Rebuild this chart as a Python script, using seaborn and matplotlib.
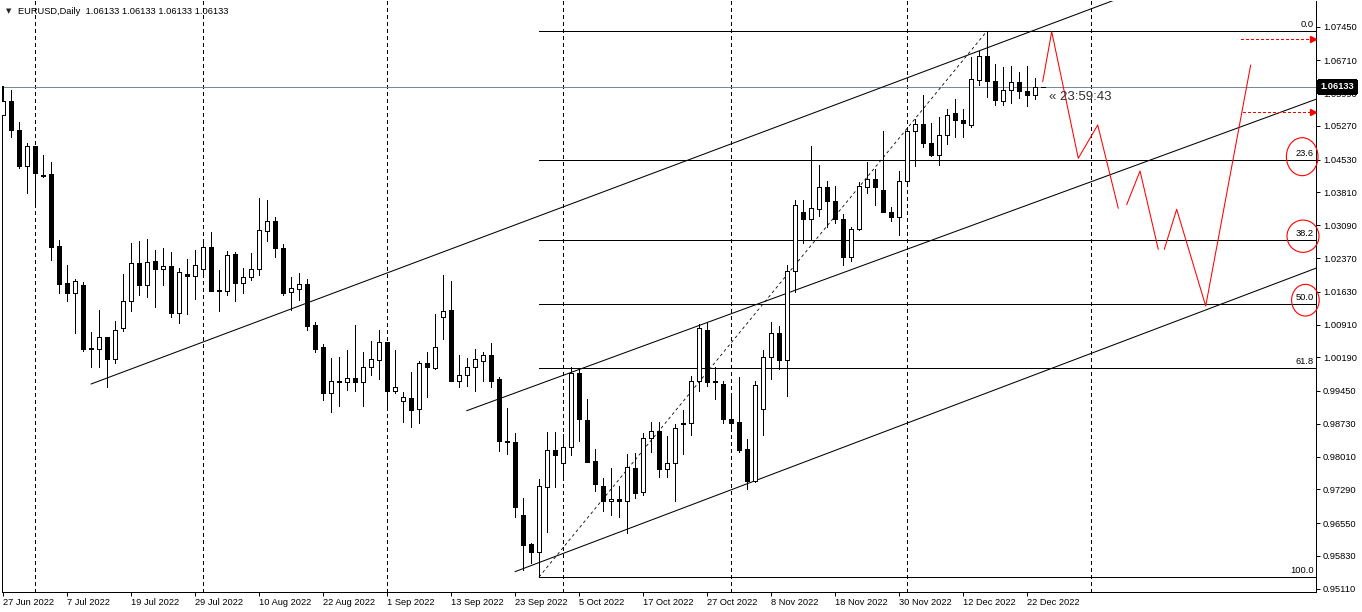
import numpy as np
import pandas as pd
import matplotlib
matplotlib.use("Agg")
import matplotlib.pyplot as plt
import matplotlib.transforms as mtrans
from matplotlib.patches import Ellipse
import seaborn as sns

sns.set_theme(style="white")
plt.rcParams["font.family"] = ["Liberation Sans", "DejaVu Sans"]
plt.rcParams["lines.antialiased"] = False
plt.rcParams["patch.antialiased"] = False

# ---------------- data (EURUSD daily) ----------------
opens = [1.0551, 1.0582, 1.0518, 1.0440, 1.0483, 1.0420, 1.0421, 1.0263, 1.0182, 1.0160,
         1.0178, 1.0039, 1.0037, 1.0063, 1.0015, 1.0084, 1.0142, 1.0226, 1.0177, 1.0230,
         1.0212, 1.0219, 1.0116, 1.0203, 1.0197, 1.0212, 1.0261, 1.0167, 1.0164, 1.0246,
         1.0182, 1.0195, 1.0212, 1.0297, 1.0318, 1.0258, 1.0162, 1.0170, 1.0180, 1.0090,
         1.0042, 0.9941, 0.9966, 0.9964, 0.9973, 0.9965, 0.9997, 1.0013, 1.0053, 0.9944,
         0.9922, 0.9930, 0.9905, 1.0006, 0.9996, 1.0107, 1.0123, 0.9966, 0.9980, 0.9997,
         1.0010, 1.0023, 0.9971, 0.9836, 0.9834, 0.9672, 0.9609, 0.9592, 0.9735, 0.9815,
         0.9786, 0.9823, 0.9985, 0.9881, 0.9791, 0.9736, 0.9703, 0.9707, 0.9703, 0.9776,
         0.9723, 0.9842, 0.9857, 0.9773, 0.9786, 0.9874, 0.9874, 0.9967, 1.0080, 0.9966,
         0.9960, 0.9884, 0.9877, 0.9817, 0.9748, 0.9905, 1.0019, 1.0072, 1.0012, 1.0208,
         1.0338, 1.0323, 1.0345, 1.0392, 1.0362, 1.0322, 1.0239, 1.0301, 1.0394, 1.0410,
         1.0386, 1.0338, 1.0328, 1.0406, 1.0515, 1.0531, 1.0489, 1.0464, 1.0507, 1.0555,
         1.0539, 1.0530, 1.0628, 1.0681, 1.0625, 1.0581, 1.0606, 1.0624, 1.0604, 1.0594,
         1.06133]
highs = [1.0615, 1.0606, 1.0536, 1.0490, 1.0483, 1.0463, 1.0448, 1.0277, 1.0221, 1.0190,
         1.0184, 1.0075, 1.0123, 1.0063, 1.0099, 1.0202, 1.0269, 1.0274, 1.0278, 1.0255,
         1.0259, 1.0250, 1.0214, 1.0234, 1.0255, 1.0277, 1.0294, 1.0211, 1.0253, 1.0250,
         1.0214, 1.0249, 1.0369, 1.0364, 1.0328, 1.0268, 1.0196, 1.0205, 1.0192, 1.0097,
         1.0048, 1.0017, 1.0020, 1.0035, 1.0089, 1.0031, 1.0055, 1.0079, 1.0053, 1.0035,
         0.9943, 0.9987, 1.0010, 1.0031, 1.0114, 1.0199, 1.0187, 1.0023, 1.0017, 1.0038,
         1.0031, 1.0050, 0.9976, 0.9908, 0.9852, 0.9710, 0.9611, 0.9751, 0.9855, 0.9855,
         0.9851, 0.9997, 0.9994, 0.9927, 0.9817, 0.9754, 0.9775, 0.9736, 0.9807, 0.9808,
         0.9853, 0.9877, 0.9877, 0.9846, 0.9873, 0.9903, 0.9978, 1.0092, 1.0095, 0.9997,
         0.9968, 0.9932, 0.9975, 0.9839, 0.9966, 1.0034, 1.0097, 1.0088, 1.0222, 1.0364,
         1.0364, 1.0482, 1.0441, 1.0407, 1.0395, 1.0334, 1.0306, 1.0404, 1.0448, 1.0433,
         1.0515, 1.0350, 1.0427, 1.0523, 1.0543, 1.0594, 1.0533, 1.0547, 1.0564, 1.0587,
         1.0564, 1.0678, 1.0692, 1.07355, 1.0663, 1.0657, 1.0659, 1.0646, 1.0659, 1.0632,
         1.06133]
lows = [1.0551, 1.0503, 1.0435, 1.0380, 1.0358, 1.0415, 1.0233, 1.0161, 1.0143, 1.0072,
        1.0032, 0.9998, 0.9997, 0.9953, 1.0007, 1.0077, 1.0120, 1.0155, 1.0152, 1.0129,
        1.0178, 1.0107, 1.0095, 1.0113, 1.0146, 1.0202, 1.0164, 1.0121, 1.0155, 1.0142,
        1.0160, 1.0189, 1.0200, 1.0275, 1.0239, 1.0155, 1.0123, 1.0145, 1.0079, 1.0031,
        0.9925, 0.9899, 0.9911, 0.9947, 0.9946, 0.9913, 0.9981, 0.9971, 0.9911, 0.9941,
        0.9877, 0.9865, 0.9875, 0.9931, 0.9993, 1.0060, 0.9966, 0.9954, 0.9956, 0.9944,
        0.9966, 0.9954, 0.9814, 0.9807, 0.9669, 0.9552, 0.9568, 0.95365, 0.9636, 0.9735,
        0.9753, 0.9805, 0.9835, 0.9789, 0.9726, 0.9682, 0.9672, 0.9668, 0.9634, 0.9709,
        0.9717, 0.9811, 0.9756, 0.9756, 0.9704, 0.9807, 0.9849, 0.9944, 0.9956, 0.9927,
        0.9874, 0.9864, 0.9811, 0.9730, 0.9745, 0.9849, 0.9972, 0.9993, 0.9934, 1.0163,
        1.0271, 1.0278, 1.0329, 1.0305, 1.0313, 1.0222, 1.0230, 1.0298, 1.0380, 1.0354,
        1.0338, 1.0318, 1.0288, 1.0397, 1.0438, 1.0480, 1.0460, 1.0442, 1.0487, 1.0503,
        1.0503, 1.0525, 1.0618, 1.0591, 1.0572, 1.0574, 1.0578, 1.0588, 1.0571, 1.0586,
        1.06133]
closes = [1.0582, 1.0518, 1.0439, 1.0483, 1.0424, 1.0418, 1.0262, 1.0181, 1.0160, 1.0186,
          1.0038, 1.0037, 1.0063, 1.0016, 1.0079, 1.0143, 1.0226, 1.0178, 1.0228, 1.0212,
          1.0219, 1.0116, 1.0206, 1.0197, 1.0221, 1.0261, 1.0164, 1.0165, 1.0244, 1.0183,
          1.0195, 1.0212, 1.0298, 1.0318, 1.0258, 1.0161, 1.0171, 1.0180, 1.0088, 1.0038,
          0.9941, 0.9966, 0.9965, 0.9973, 0.9964, 0.9997, 1.0015, 1.0053, 0.9944, 0.9953,
          0.9932, 0.9903, 1.0006, 0.9997, 1.0042, 1.0120, 0.9966, 0.9980, 0.9997, 1.0015,
          1.0023, 0.9968, 0.9836, 0.9834, 0.9690, 0.9607, 0.9592, 0.9736, 0.9815, 0.9804,
          0.9823, 0.9985, 0.9884, 0.9789, 0.9741, 0.9703, 0.9707, 0.9703, 0.9777, 0.9720,
          0.9842, 0.9858, 0.9773, 0.9786, 0.9864, 0.9872, 0.9966, 1.0083, 0.9965, 0.9964,
          0.9883, 0.9875, 0.9815, 0.9748, 0.9959, 1.0019, 1.0072, 1.0012, 1.0209, 1.0353,
          1.0323, 1.0347, 1.0392, 1.0363, 1.0323, 1.0239, 1.0301, 1.0395, 1.0410, 1.0394,
          1.0338, 1.0328, 1.0406, 1.0515, 1.0531, 1.0489, 1.0464, 1.0507, 1.0552, 1.0539,
          1.0533, 1.0630, 1.0681, 1.0625, 1.0583, 1.0606, 1.0624, 1.0604, 1.0594, 1.06133,
          1.06133]

date_label_bars = [0, 8, 16, 24, 32, 40, 48, 56, 64, 72, 80, 88, 96, 104, 112, 120, 128]
date_labels = ["27 Jun 2022", "7 Jul 2022", "19 Jul 2022", "29 Jul 2022", "10 Aug 2022",
               "22 Aug 2022", "1 Sep 2022", "13 Sep 2022", "23 Sep 2022", "5 Oct 2022",
               "17 Oct 2022", "27 Oct 2022", "8 Nov 2022", "18 Nov 2022", "30 Nov 2022",
               "12 Dec 2022", "22 Dec 2022"]
month_start_bars = [4, 25, 48, 70, 91, 113, 136]

price_ticks = [1.07450, 1.06710, 1.05990, 1.05270, 1.04530, 1.03810, 1.03090, 1.02370,
               1.01630, 1.00910, 1.00190, 0.99450, 0.98730, 0.98010, 0.97290, 0.96550,
               0.95830, 0.95110]
price_tick_labels = ["1.07450", "1.06710", "1.05990", "1.05270", "1.04530", "1.03810",
                     "1.03090", "1.02370", "1.01630", "1.00910", "1.00190", "0.99450",
                     "0.98730", "0.98010", "0.97290", "0.96550", "0.95830", "0.95110"]
bid_price = 1.06133
timer_text = "« 23:59:43"
title_text = "EURUSD,Daily  1.06133 1.06133 1.06133 1.06133"

# Fibonacci retracement (from swing low to swing high)
fib_low_bar, fib_low = 67, 0.95365
fib_high_bar, fib_high = 123, 1.07355
fib_levels = [0.0, 23.6, 38.2, 50.0, 61.8, 100.0]

# trend / channel lines: two anchor points each (bar index, price)
line1_bars, line1_prices = [11.0, 132.3], [0.99603, 1.07597]
line2_bars, line2_prices = [57.96, 164.1], [0.99017, 1.05855]
line3_bars, line3_prices = [64.0, 164.1], [0.95482, 1.02145]

# red hand-drawn projection (three strokes)
proj_stroke = [0, 0, 0, 0, 0, 1, 1, 1, 2, 2, 2, 2]
proj_bars = [129.96, 131.09, 134.41, 136.84, 139.41, 140.46, 142.13, 144.41,
             145.16, 146.71, 150.34, 155.96]
proj_prices = [1.06242, 1.07340, 1.04560, 1.05291, 1.03462, 1.03541, 1.04281, 1.02561,
               1.02561, 1.03440, 1.01316, 1.06609]

# red dashed arrows (start bar, end bar, price)
arrow_start_bars = [154.75, 155.0]
arrow_end_bars = [163.5, 163.5]
arrow_prices = [1.07173, 1.05570]

# red circles round fib labels (centre bar, centre price, width bars, height price)
circle_bars = [162.4, 162.5, 162.8]
circle_prices = [1.04595, 1.02849, 1.01444]
circle_widths = [3.95, 4.0, 3.45]
circle_heights = [0.00834, 0.00709, 0.00696]

# ---------------- figure ----------------
W, H = 1362, 612
fig = plt.figure(figsize=(W / 100, H / 100), dpi=100)
fig.patch.set_facecolor("white")
ax = fig.add_axes([2 / W, 1 - 591.5 / H, (1316 - 2) / W, (591.5 - 1) / H])
ax.set_facecolor("white")

n = len(opens)
bars = np.arange(n)
df = pd.DataFrame({"bar": bars, "open": opens, "high": highs, "low": lows, "close": closes})

XMIN, XMAX = -0.125, 164.125
YMIN, YMAX = 0.95047, 1.08014
ax.set_xlim(XMIN, XMAX)
ax.set_ylim(YMIN, YMAX)

LW = 0.7      # crisp 1px horizontal / vertical strokes
DLW = 0.75    # smooth diagonal strokes
# month separators
for b in month_start_bars:
    ax.axvline(b, color="black", lw=LW, dashes=(4, 4), zorder=1)

# bid line
ax.axhline(bid_price, color="#778899", lw=LW, zorder=1)

# candles
ax.vlines(df["bar"], df["low"], df["high"], color="black", lw=LW, zorder=3,
          antialiased=False)
bull = df["close"] >= df["open"]
body_lo = np.minimum(df["open"], df["close"])
body_h = np.maximum(np.abs(df["close"] - df["open"]), 0.00003)
ax.bar(df["bar"], body_h, bottom=body_lo, width=0.55,
       color=np.where(bull, "white", "black"), edgecolor="black", linewidth=LW, zorder=4)

# fibonacci
rng = fib_high - fib_low
for lvl in fib_levels:
    p = fib_high - rng * lvl / 100.0
    ax.plot([fib_low_bar, XMAX], [p, p], color="black", lw=LW, zorder=2)
    ax.annotate(f"{lvl:.1f}", xy=(XMAX, p), xytext=(-1.5, 1.5), textcoords="offset points",
                ha="right", va="bottom", fontsize=6.7, color="black", zorder=6)
ax.plot([fib_low_bar, fib_high_bar], [fib_low, fib_high], color="black", lw=0.6,
        dashes=(3.5, 3.5), zorder=2, antialiased=True)

# channel lines (rays to the right)
for bx, py in [(line1_bars, line1_prices), (line2_bars, line2_prices), (line3_bars, line3_prices)]:
    slope = (py[1] - py[0]) / (bx[1] - bx[0])
    xe = XMAX + 5
    ax.plot([bx[0], xe], [py[0], py[0] + slope * (xe - bx[0])], color="black", lw=DLW,
            zorder=2, antialiased=True)

# red projection
proj = pd.DataFrame({"bar": proj_bars, "price": proj_prices, "stroke": proj_stroke})
sns.lineplot(data=proj, x="bar", y="price", units="stroke", estimator=None, sort=False,
             color="red", lw=DLW, ax=ax, legend=False, zorder=5, antialiased=True)

# red dashed arrows
for xs, xe, p in zip(arrow_start_bars, arrow_end_bars, arrow_prices):
    ax.plot([xs, xe], [p, p], color="red", lw=LW, dashes=(3, 3), zorder=5)
    ax.plot([xe + 0.3], [p], marker=">", color="red", ms=4, zorder=5, clip_on=False,
            antialiased=True)

# red circles
for cx, cy, cw, ch in zip(circle_bars, circle_prices, circle_widths, circle_heights):
    ax.add_patch(Ellipse((cx, cy), cw, ch, fill=False, edgecolor="red", lw=0.8,
                         zorder=6, clip_on=False, antialiased=True))

# timer text
ax.annotate(timer_text, xy=(n - 1, bid_price), xytext=(4, -7.5), textcoords="offset points",
            ha="left", va="center", fontsize=9.5, color="#303030", zorder=7)

# axes styling
ax.set_xlabel("")
ax.set_ylabel("")
ax.yaxis.tick_right()
ax.set_yticks(price_ticks)
ax.set_yticklabels(price_tick_labels)
ax.set_xticks(date_label_bars)
ax.set_xticklabels(date_labels, ha="left")
off = mtrans.ScaledTranslation(1.5 / 100, 0, fig.dpi_scale_trans)
for lbl in ax.get_xticklabels():
    lbl.set_transform(lbl.get_transform() + off)
ax.tick_params(axis="both", direction="out", length=3, width=LW, colors="black",
               labelsize=6.7, pad=2)
ax.tick_params(axis="y", right=True, left=False)
ax.tick_params(axis="x", bottom=True)
ax.grid(False)
for s in ["right", "bottom", "left"]:
    ax.spines[s].set_visible(True)
    ax.spines[s].set_color("black")
    ax.spines[s].set_linewidth(LW)
ax.spines["top"].set_visible(False)
ax.spines["left"].set_bounds(YMIN, highs[0])

# current price box
ax.annotate(f"{bid_price:.5f}", xy=(1, bid_price), xycoords=("axes fraction", "data"),
            xytext=(3.0, 0), textcoords="offset points", ha="left", va="center",
            fontsize=6.7, color="white", fontweight="bold", zorder=10, annotation_clip=False,
            bbox=dict(boxstyle="square,pad=0.25", fc="black", ec="black"))

# title
fig.text(6 / W, 1 - 11 / H, "▼", fontsize=5, family="DejaVu Sans", va="center", ha="left")
fig.text(18 / W, 1 - 11 / H, title_text, fontsize=6.7, va="center", ha="left", color="black")

fig.savefig("out.png", dpi=100, facecolor="white")
